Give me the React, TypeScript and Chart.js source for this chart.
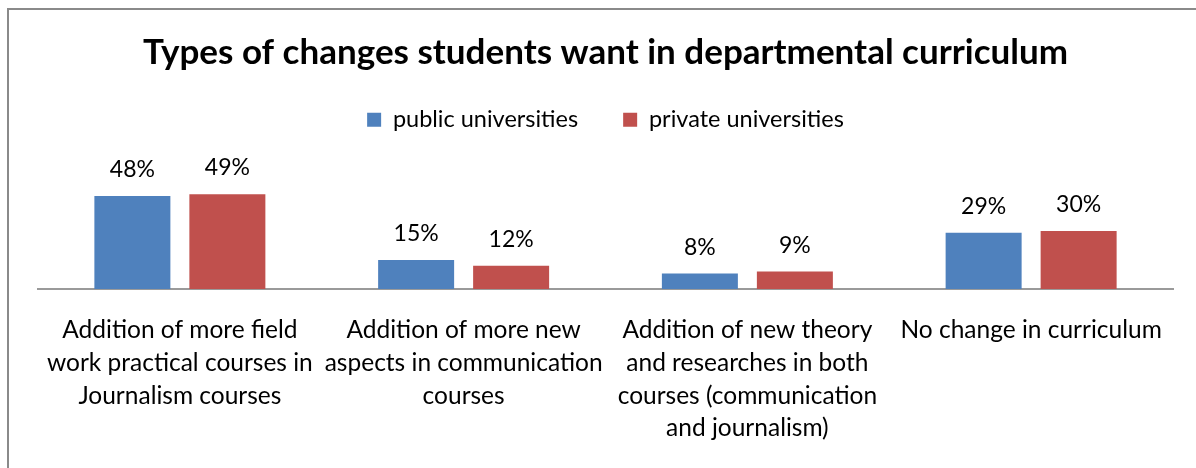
import React, { useEffect, useRef } from "react";
import { Chart, registerables } from "chart.js";

Chart.register(...registerables);

const categories: string[][] = [
  ["Addition of more field", "work practical courses in", "Journalism courses"],
  ["Addition of more new", "aspects in communication", "courses"],
  ["Addition of new theory", "and researches in both", "courses (communication", "and journalism)"],
  ["No change in curriculum"],
];
const publicValues = [48, 15, 8, 29];
const privateValues = [49, 12, 9, 30];
const seriesNames = ["public universities", "private universities"];
const titleText = "Types of changes students want in departmental curriculum";

const FONT = "Lato, 'Open Sans', sans-serif";

const frame = {
  id: "frame",
  beforeDraw(chart: any) {
    const ctx = chart.ctx;
    ctx.save();
    ctx.fillStyle = "#ffffff";
    ctx.fillRect(0, 0, chart.width, chart.height);
    ctx.fillStyle = "#8a8a8a";
    ctx.fillRect(7, 8, chart.width - 7, 2);
    ctx.fillRect(7, 8, 2, chart.height - 8);
    ctx.restore();
  },
};

const valueLabels = {
  id: "valueLabels",
  afterDatasetsDraw(chart: any) {
    const ctx = chart.ctx;
    ctx.save();
    ctx.font = `23px ${FONT}`;
    ctx.fillStyle = "#000000";
    ctx.textAlign = "center";
    ctx.textBaseline = "alphabetic";
    chart.data.datasets.forEach((ds: any, di: number) => {
      const meta = chart.getDatasetMeta(di);
      meta.data.forEach((el: any, i: number) => {
        ctx.fillText(`${ds.data[i]}%`, el.x, el.y - 19);
      });
    });
    ctx.restore();
  },
};

export default function App() {
  const ref = useRef<HTMLCanvasElement | null>(null);
  useEffect(() => {
    if (!ref.current) return;
    const chart = new Chart(ref.current, {
      type: "bar",
      data: {
        labels: categories,
        datasets: [
          {
            label: seriesNames[0],
            data: publicValues,
            backgroundColor: "#4F81BD",
            categoryPercentage: 0.6696,
            barPercentage: 0.8,
          },
          {
            label: seriesNames[1],
            data: privateValues,
            backgroundColor: "#C0504D",
            categoryPercentage: 0.6696,
            barPercentage: 0.8,
          },
        ],
      },
      options: {
        animation: false,
        responsive: false,
        maintainAspectRatio: false,
        layout: { padding: { left: 38, right: 23, top: 10, bottom: 0 } },
        plugins: {
          title: {
            display: true,
            text: titleText,
            color: "#000000",
            font: { family: FONT, size: 35, weight: "bold", lineHeight: 1.0 },
            padding: { top: 25, bottom: -7 },
          },
          legend: {
            display: true,
            position: "top",
            labels: {
              color: "#000000",
              font: { family: FONT, size: 23.5 },
              boxWidth: 14,
              boxHeight: 14,
              padding: 45,
            },
          },
          tooltip: { enabled: false },
        },
        scales: {
          x: {
            grid: { display: false, drawTicks: false, tickLength: 0 },
            border: { display: true, color: "#9a9a9a", width: 2 },
            ticks: {
              color: "#000000",
              font: { family: FONT, size: 24.5, lineHeight: "32.7px" },
              padding: 25,
              autoSkip: false,
              maxRotation: 0,
              minRotation: 0,
            },
            afterFit: (scale: any) => {
              scale.height = 179;
            },
          },
          y: {
            display: false,
            min: 0,
            max: 76.2,
          },
        },
      },
      plugins: [frame, valueLabels],
    });
    return () => chart.destroy();
  }, []);
  return (
    <canvas
      ref={ref}
      width={1196}
      height={468}
      style={{ display: "block", position: "absolute", left: 0, top: 0 }}
    />
  );
}
